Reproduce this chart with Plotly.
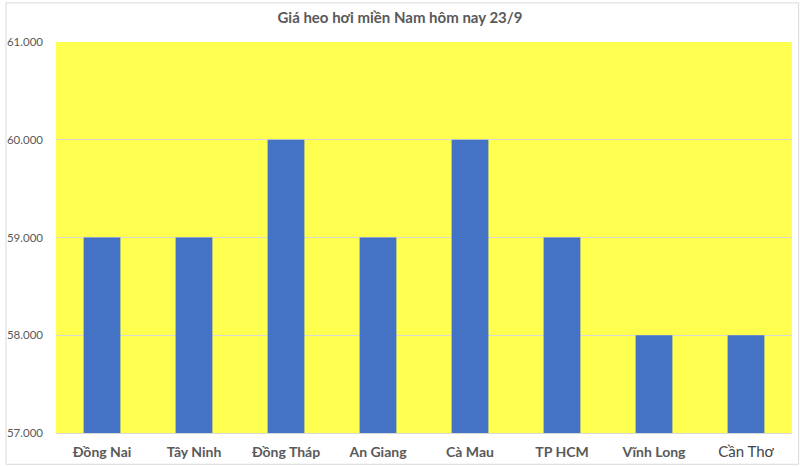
import plotly.graph_objects as go

categories = ["Đồng Nai", "Tây Ninh", "Đồng Tháp", "An Giang", "Cà Mau", "TP HCM", "Vĩnh Long", "Cần Thơ"]
prices = [59000, 59000, 60000, 59000, 60000, 59000, 58000, 58000]
tick_values = [57000, 58000, 59000, 60000, 61000]
tick_labels = ["57.000", "58.000", "59.000", "60.000", "61.000"]
title_text = "Giá heo hơi miền Nam hôm nay 23/9"

tick_text_x = [f"<b>{c}</b>" if c != "Cần Thơ" else f"<span style='font-size:15px;color:#454545'>{c}</span>" for c in categories]

fig = go.Figure(go.Bar(
    x=categories, y=prices,
    marker=dict(color="#4472C4", line=dict(width=0)),
    hoverinfo="skip",
))

fig.update_layout(
    width=800, height=466,
    margin=dict(l=56, r=8, t=42, b=33, autoexpand=False),
    paper_bgcolor="white",
    plot_bgcolor="#FFFF4F",
    bargap=0.6,
    showlegend=False,
    font=dict(family="Lato, 'Open Sans', sans-serif", color="#595959", size=12),
    title=dict(text=f"<b>{title_text}</b>", x=0.5, xanchor="center", y=0.962, yanchor="middle",
               font=dict(size=15, color="#595959")),
    xaxis=dict(tickmode="array", tickvals=categories, ticktext=tick_text_x,
               tickfont=dict(size=14, color="#595959"), showgrid=False, automargin=False,
               showline=True, linecolor="#D9D9D9", linewidth=1, ticks="", ticklabelstandoff=6),
    yaxis=dict(range=[57000, 61000], tickmode="array", tickvals=tick_values, ticktext=tick_labels,
               showgrid=True, gridcolor="#D9D9D9", gridwidth=1, zeroline=False, automargin=False,
               tickfont=dict(size=11.5, color="#595959"), ticks="", showline=False, ticklabelstandoff=12),
)

fig.add_shape(type="rect", xref="paper", yref="paper", x0=-0.068, x1=1.009, y0=-0.08, y1=1.1,
              line=dict(color="#D9D9D9", width=1), layer="below")

fig.write_html("out.html", config={"displayModeBar": False},
               post_script="document.body.style.margin='0';")
